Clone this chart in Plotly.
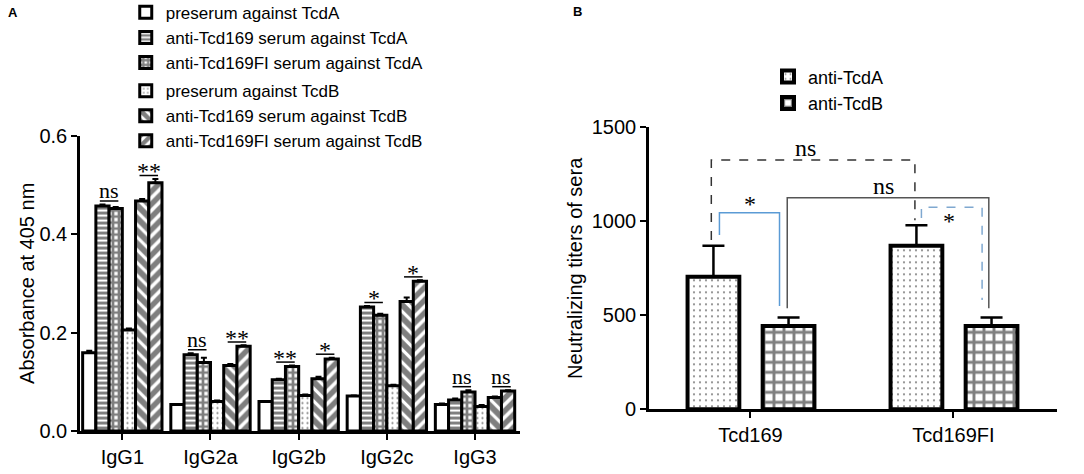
import plotly.graph_objects as go

# ---- panel A: IgG subclass ELISA ----
subclasses = ['IgG1', 'IgG2a', 'IgG2b', 'IgG2c', 'IgG3']
series_names = ['preserum against TcdA', 'anti-Tcd169 serum against TcdA', 'anti-Tcd169FI serum against TcdA',
                'preserum against TcdB', 'anti-Tcd169 serum against TcdB', 'anti-Tcd169FI serum against TcdB']
pre_a = [0.159, 0.054, 0.060, 0.071, 0.054]
tcd169_a = [0.457, 0.155, 0.104, 0.252, 0.063]
tcd169fi_a = [0.452, 0.139, 0.131, 0.235, 0.079]
pre_b = [0.205, 0.060, 0.072, 0.092, 0.050]
tcd169_b = [0.467, 0.133, 0.106, 0.263, 0.068]
tcd169fi_b = [0.504, 0.172, 0.146, 0.304, 0.081]
pre_a_err = [0.004, 0.001, 0.001, 0.001, 0.002]
tcd169_a_err = [0.003, 0.003, 0.002, 0.002, 0.003]
tcd169fi_a_err = [0.003, 0.010, 0.002, 0.003, 0.004]
pre_b_err = [0.003, 0.002, 0.002, 0.002, 0.003]
tcd169_b_err = [0.004, 0.003, 0.004, 0.008, 0.002]
tcd169fi_b_err = [0.008, 0.002, 0.003, 0.002, 0.002]
sig_tcda = ['ns', 'ns', '**', '*', 'ns']
sig_tcdb = ['**', '**', '*', '*', 'ns']

# ---- panel B: neutralizing titers ----
immunogens = ['Tcd169', 'Tcd169FI']
titer_names = ['anti-TcdA', 'anti-TcdB']
titer_a = [705, 870]
titer_a_err = [165, 109]
titer_b = [443, 443]
titer_b_err = [46, 46]

FONT = 'Liberation Sans, Arial'
SERIF = 'Liberation Serif, Times New Roman'

patterns = [
    dict(shape=''),
    dict(shape='-', fgcolor='black', bgcolor='white', size=5, solidity=0.6),
    dict(shape='+', fgcolor='black', bgcolor='white', size=6, solidity=0.7),
    dict(shape='.', fgcolor='black', bgcolor='white', size=5, solidity=0.15),
    dict(shape='\\', fgcolor='black', bgcolor='white', size=9, solidity=0.65),
    dict(shape='/', fgcolor='black', bgcolor='white', size=9, solidity=0.6),
]

vals = [pre_a, tcd169_a, tcd169fi_a, pre_b, tcd169_b, tcd169fi_b]
errs = [pre_a_err, tcd169_a_err, tcd169fi_a_err, pre_b_err, tcd169_b_err, tcd169fi_b_err]

fig = go.Figure()

w = 0.15
x_idx = list(range(len(subclasses)))
for i in range(6):
    fig.add_bar(
        x=x_idx, y=vals[i], name=series_names[i],
        width=w, offset=-0.45 + i * w,
        marker=dict(color='white', line=dict(color='black', width=3), pattern=patterns[i]),
        error_y=dict(type='data', array=errs[i], arrayminus=[0] * 5, symmetric=False,
                     color='black', thickness=2, width=3),
        legendgroup='TcdA' if i < 3 else 'TcdB',
        legend='legend', xaxis='x', yaxis='y')

# significance marks above pairs of bars
for g in x_idx:
    for (i, j, lab) in [(1, 2, sig_tcda[g]), (4, 5, sig_tcdb[g])]:
        xa = g - 0.45 + i * w + w / 2 - 0.03
        xb = g - 0.45 + j * w + w / 2 + 0.03
        top = max(vals[i][g] + errs[i][g], vals[j][g] + errs[j][g]) + 0.007
        fig.add_shape(type='line', xref='x', yref='y', x0=xa, x1=xb, y0=top, y1=top,
                      line=dict(color='black', width=1.5))
        fig.add_annotation(xref='x', yref='y', x=(xa + xb) / 2, y=top, text=lab,
                           showarrow=False, yanchor='bottom', yshift=-4 if lab == 'ns' else -11,
                           font=dict(family=SERIF, size=22 if lab == 'ns' else 24, color='black'))

# panel B bars
bw = 0.255
b_x = list(range(len(immunogens)))
fig.add_bar(x=b_x, y=titer_a, name=titer_names[0], width=bw, offset=-0.31,
            marker=dict(color='white', line=dict(color='black', width=4),
                        pattern=dict(shape='.', fgcolor='black', bgcolor='white', size=6, solidity=0.1)),
            error_y=dict(type='data', array=titer_a_err, arrayminus=[0, 0], symmetric=False,
                         color='black', thickness=2.5, width=11),
            legend='legend2', xaxis='x2', yaxis='y2')
fig.add_bar(x=b_x, y=titer_b, name=titer_names[1], width=bw, offset=0.06,
            marker=dict(color='white', line=dict(color='black', width=4),
                        pattern=dict(shape='+', fgcolor='black', bgcolor='white', size=10, solidity=0.5)),
            error_y=dict(type='data', array=titer_b_err, arrayminus=[0, 0], symmetric=False,
                         color='black', thickness=2.5, width=11),
            legend='legend2', xaxis='x2', yaxis='y2')

# comparison brackets in panel B: (x left, x right, y left foot, y top, y right foot, colour, dash, label, label x, label y)
brackets = [
    (-0.193, 0.81, 900, 1326, 1006, '#333333', 'dash', 'ns', 0.27, 1310),
    (-0.153, 0.143, 927, 1046, 549, '#5b9bd5', 'solid', '*', 0.0, 1010),
    (0.181, 1.174, 537, 1126, 537, '#555555', 'solid', 'ns', 0.655, 1110),
    (0.842, 1.141, 1017, 1075, 581, '#7fa8d0', 'dash', '*', 0.98, 920),
]
for (x0, x1, yl, yt, yr, col, dash, lab, lx, ly) in brackets:
    fig.add_shape(type='path', xref='x2', yref='y2',
                  path=f'M {x0},{yl} L {x0},{yt} L {x1},{yt} L {x1},{yr}',
                  line=dict(color=col, width=1.5, dash=dash))
    fig.add_annotation(xref='x2', yref='y2', x=lx, y=ly, text=lab, showarrow=False,
                       yanchor='bottom', font=dict(family=SERIF, size=24, color='black'))

# panel letters
fig.add_annotation(text='<b>A</b>', x=6 / 1084, y=1 - 3 / 474, xref='paper', yref='paper',
                   showarrow=False, font=dict(family=FONT, size=13, color='black'))
fig.add_annotation(text='<b>B</b>', x=577 / 1084, y=1 - 2 / 474, xref='paper', yref='paper',
                   showarrow=False, font=dict(family=FONT, size=13, color='black'))

axis_common = dict(showline=True, linecolor='black', linewidth=2.5, ticks='outside',
                   ticklen=6, tickwidth=2, tickcolor='black', showgrid=False, zeroline=False,
                   automargin=False, tickfont=dict(family=FONT, size=20, color='black'))

fig.update_layout(
    width=1084, height=474, autosize=False,
    margin=dict(l=0, r=0, t=0, b=0, autoexpand=False),
    paper_bgcolor='white', plot_bgcolor='white',
    barmode='overlay',
    xaxis=dict(domain=[0.0738, 0.4797], range=[-0.48, 4.51], tickvals=x_idx, ticktext=subclasses,
               anchor='y', **axis_common),
    yaxis=dict(domain=[0.0907, 0.714], range=[0, 0.6], tickvals=[0, 0.2, 0.4, 0.6], tickformat='.1f',
               anchor='x', title=dict(text='Absorbance at 405 nm', font=dict(family=FONT, size=20, color='black'),
                                      standoff=0), **axis_common),
    xaxis2=dict(domain=[0.5987, 0.9751], range=[-0.5, 1.51], tickvals=b_x, ticktext=immunogens,
                anchor='y2', **axis_common),
    yaxis2=dict(domain=[0.1365, 0.7314], range=[0, 1500], tickvals=[0, 500, 1000, 1500],
                anchor='x2', title=dict(text='Neutralizing titers of sera', font=dict(family=FONT, size=20, color='black'),
                                        standoff=4), **axis_common),
    legend=dict(x=0.116, y=1.011, xanchor='left', yanchor='top', tracegroupgap=3,
                font=dict(family=FONT, size=17, color='black'), bgcolor='rgba(0,0,0,0)'),
    legend2=dict(x=0.7085, y=0.877, xanchor='left', yanchor='top',
                 font=dict(family=FONT, size=18, color='black'), bgcolor='rgba(0,0,0,0)'),
)

fig.write_html('out.html', config={'displayModeBar': False},
               post_script="document.body.style.margin='0';")
